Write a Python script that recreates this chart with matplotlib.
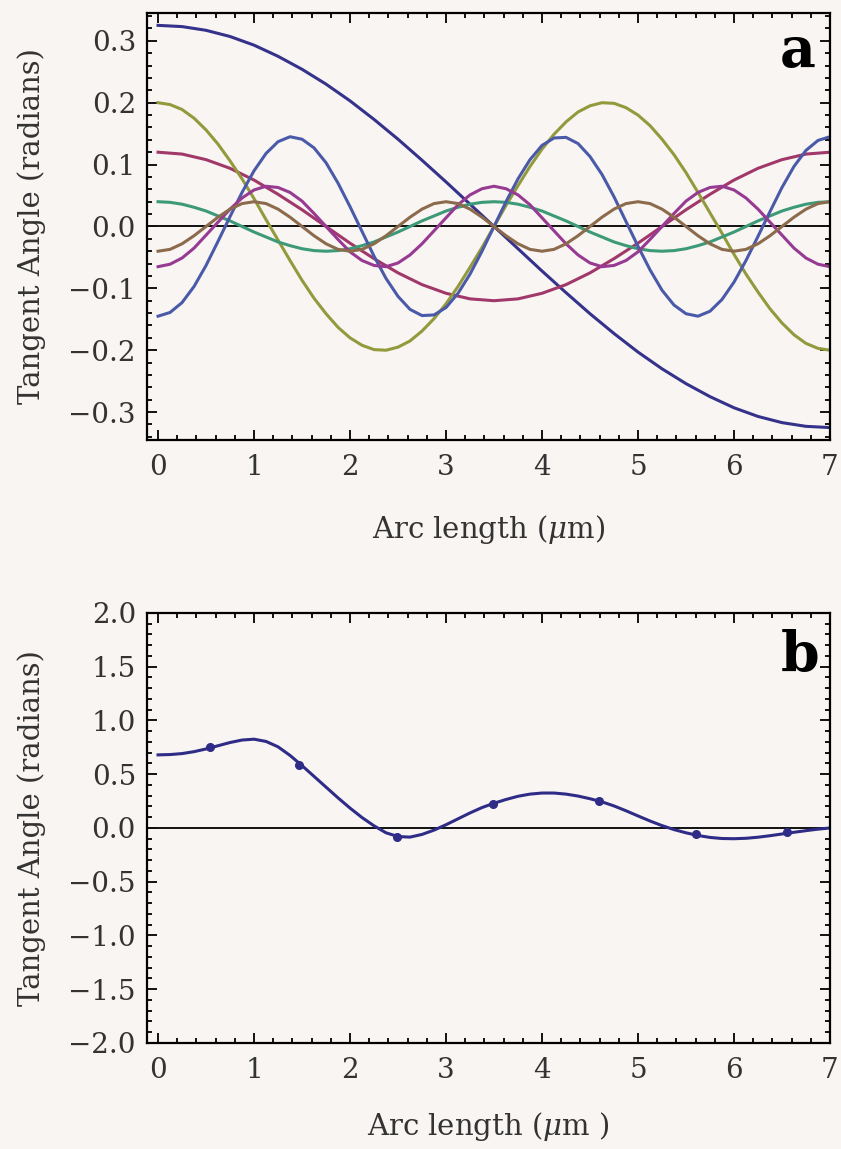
import numpy as np
import matplotlib.pyplot as plt
from matplotlib.ticker import MultipleLocator, FuncFormatter

plt.rcParams['font.family'] = ['DejaVu Serif']
plt.rcParams['mathtext.fontset'] = 'dejavuserif'

# ---- panel a: tangent angle of the individual modes ----
# slow modes read every 0.25 um, faster ones every 0.125 um
arc_a = np.arange(29) * 0.25
arc_fine = np.arange(57) * 0.125

mode1 = [0.325, 0.323, 0.317, 0.307, 0.293, 0.275, 0.254, 0.230, 0.203, 0.173,
         0.141, 0.107, 0.072, 0.036, 0.000, -0.036, -0.072, -0.107, -0.141, -0.173,
         -0.203, -0.230, -0.254, -0.275, -0.293, -0.307, -0.317, -0.323, -0.325]
mode2 = [0.120, 0.117, 0.108, 0.094, 0.075, 0.052, 0.027, 0.000, -0.027, -0.052,
         -0.075, -0.094, -0.108, -0.117, -0.120, -0.117, -0.108, -0.094, -0.075, -0.052,
         -0.027, 0.000, 0.027, 0.052, 0.075, 0.094, 0.108, 0.117, 0.120]
mode3 = [0.200, 0.197, 0.189, 0.175, 0.156, 0.133, 0.106, 0.077, 0.045, 0.011,
         -0.022, -0.055, -0.087, -0.116, -0.141, -0.163, -0.180, -0.192, -0.199, -0.200,
         -0.195, -0.185, -0.169, -0.149, -0.125, -0.097, -0.066, -0.034, 0.000,
         0.034, 0.066, 0.097, 0.125, 0.149, 0.169, 0.185, 0.195, 0.200, 0.199,
         0.192, 0.180, 0.163, 0.141, 0.116, 0.087, 0.055, 0.022, -0.011, -0.045,
         -0.077, -0.106, -0.133, -0.156, -0.175, -0.189, -0.197, -0.200]
mode4 = [0.040, 0.039, 0.036, 0.031, 0.025, 0.017, 0.009, 0.000, -0.009, -0.017,
         -0.025, -0.031, -0.036, -0.039, -0.040, -0.039, -0.036, -0.031, -0.025, -0.017,
         -0.009, 0.000, 0.009, 0.017, 0.025, 0.031, 0.036, 0.039, 0.040,
         0.039, 0.036, 0.031, 0.025, 0.017, 0.009, 0.000, -0.009, -0.017, -0.025,
         -0.031, -0.036, -0.039, -0.040, -0.039, -0.036, -0.031, -0.025, -0.017, -0.009,
         0.000, 0.009, 0.017, 0.025, 0.031, 0.036, 0.039, 0.040]
mode5 = [-0.145, -0.139, -0.123, -0.097, -0.063, -0.024, 0.016, 0.055, 0.090, 0.118,
         0.137, 0.145, 0.141, 0.127, 0.103, 0.070, 0.032, -0.008, -0.048, -0.084,
         -0.113, -0.134, -0.144, -0.143, -0.131, -0.108, -0.077, -0.040, 0.000,
         0.040, 0.077, 0.108, 0.131, 0.143, 0.144, 0.134, 0.113, 0.084, 0.048,
         0.008, -0.032, -0.070, -0.103, -0.127, -0.141, -0.145, -0.137, -0.118, -0.090,
         -0.055, -0.016, 0.024, 0.063, 0.097, 0.123, 0.139, 0.145]
mode6 = [-0.065, -0.061, -0.051, -0.035, -0.014, 0.007, 0.028, 0.046, 0.059, 0.065,
         0.063, 0.055, 0.041, 0.021, 0.000, -0.021, -0.041, -0.055, -0.063, -0.065,
         -0.059, -0.046, -0.028, -0.007, 0.014, 0.035, 0.051, 0.061, 0.065,
         0.061, 0.051, 0.035, 0.014, -0.007, -0.028, -0.046, -0.059, -0.065, -0.063,
         -0.055, -0.041, -0.021, 0.000, 0.021, 0.041, 0.055, 0.063, 0.065, 0.059,
         0.046, 0.028, 0.007, -0.014, -0.035, -0.051, -0.061, -0.065]
mode7 = [-0.040, -0.037, -0.028, -0.015, 0.000, 0.015, 0.028, 0.037, 0.040, 0.037,
         0.028, 0.015, 0.000, -0.015, -0.028, -0.037, -0.040, -0.037, -0.028, -0.015,
         0.000, 0.015, 0.028, 0.037, 0.040, 0.037, 0.028, 0.015, 0.000,
         -0.015, -0.028, -0.037, -0.040, -0.037, -0.028, -0.015, 0.000, 0.015, 0.028,
         0.037, 0.040, 0.037, 0.028, 0.015, 0.000, -0.015, -0.028, -0.037, -0.040,
         -0.037, -0.028, -0.015, 0.000, 0.015, 0.028, 0.037, 0.040]

modes = [(arc_a, mode1, '#34328a'),
         (arc_a, mode2, '#a0386a'),
         (arc_fine, mode3, '#929a3c'),
         (arc_fine, mode4, '#3c9a78'),
         (arc_fine, mode5, '#4a5aa8'),
         (arc_fine, mode6, '#963a92'),
         (arc_fine, mode7, '#8c6a4c')]

# ---- panel b: summed tangent angle and measured points ----
arc_b = np.arange(57) * 0.125
angle_b = [0.680, 0.683, 0.692, 0.710, 0.735, 0.765, 0.795, 0.818, 0.826, 0.805,
           0.755, 0.675, 0.580, 0.480, 0.380, 0.280, 0.185, 0.097, 0.020, -0.045,
           -0.080, -0.085, -0.060, -0.020, 0.030, 0.085, 0.140, 0.190, 0.230,
           0.265, 0.295, 0.315, 0.325, 0.325, 0.315, 0.297, 0.272, 0.243, 0.205,
           0.160, 0.112, 0.065, 0.022, -0.015, -0.045, -0.070, -0.088, -0.098, -0.100,
           -0.096, -0.086, -0.072, -0.056, -0.040, -0.025, -0.011, 0.000]
meas_x = [0.54, 1.47, 2.49, 3.49, 4.59, 5.60, 6.55]
meas_y = [0.75, 0.59, -0.08, 0.22, 0.25, -0.06, -0.04]

bg = '#f9f5f3'
ink = '#333333'
fig = plt.figure(figsize=(8.41, 11.49), dpi=100, facecolor=bg)
ax_a = fig.add_axes([0.1748, 0.6171, 0.8121, 0.3716])
ax_b = fig.add_axes([0.1748, 0.0923, 0.8121, 0.3742])

one_dec = FuncFormatter(lambda v, pos: f'{v:.1f}'.replace('-', '\u2212'))


def style_axis(ax, ymaj, ymin):
    ax.set_facecolor(bg)
    ax.set_xlim(-0.115, 7.0)
    ax.xaxis.set_major_locator(MultipleLocator(1))
    ax.xaxis.set_minor_locator(MultipleLocator(0.2))
    ax.yaxis.set_major_locator(MultipleLocator(ymaj))
    ax.yaxis.set_minor_locator(MultipleLocator(ymin))
    ax.yaxis.set_major_formatter(one_dec)
    ax.tick_params(which='both', direction='in', top=True, right=True,
                   labelsize=20, width=1.4, color='#111111', labelcolor=ink)
    ax.tick_params(which='major', length=7)
    ax.tick_params(which='minor', length=3.5)
    ax.tick_params(axis='x', pad=10)
    ax.tick_params(axis='y', pad=8)
    for sp in ax.spines.values():
        sp.set_linewidth(1.6)
    ax.axhline(0, color='black', lw=1.3, zorder=1)
    ax.set_ylabel('Tangent Angle (radians)', fontsize=21, color=ink)
    ax.yaxis.set_label_coords(-0.148, 0.5)


style_axis(ax_a, 0.1, 0.02)
ax_a.set_ylim(-0.345, 0.345)
for xs, ys, col in modes:
    ax_a.plot(xs, ys, color=col, lw=2.2, zorder=2)
ax_a.set_xlabel('Arc length ($\\mu$m)', fontsize=21, color=ink)
ax_a.xaxis.set_label_coords(0.5, -0.17)
ax_a.text(0.953, 0.909, 'a', transform=ax_a.transAxes, fontsize=40,
          fontweight='bold', ha='center', va='center')

style_axis(ax_b, 0.5, 0.1)
ax_b.set_ylim(-2.0, 2.0)
ax_b.plot(arc_b, angle_b, color='#2e2c86', lw=2.2, zorder=2)
ax_b.plot(meas_x, meas_y, 'o', color='#2e2c86', ms=5.5, zorder=3)
ax_b.set_xlabel('Arc length ($\\mu$m )', fontsize=21, color=ink)
ax_b.xaxis.set_label_coords(0.5, -0.155)
ax_b.text(0.956, 0.898, 'b', transform=ax_b.transAxes, fontsize=40,
          fontweight='bold', ha='center', va='center')

fig.savefig('out.png', dpi=100, facecolor=bg)
